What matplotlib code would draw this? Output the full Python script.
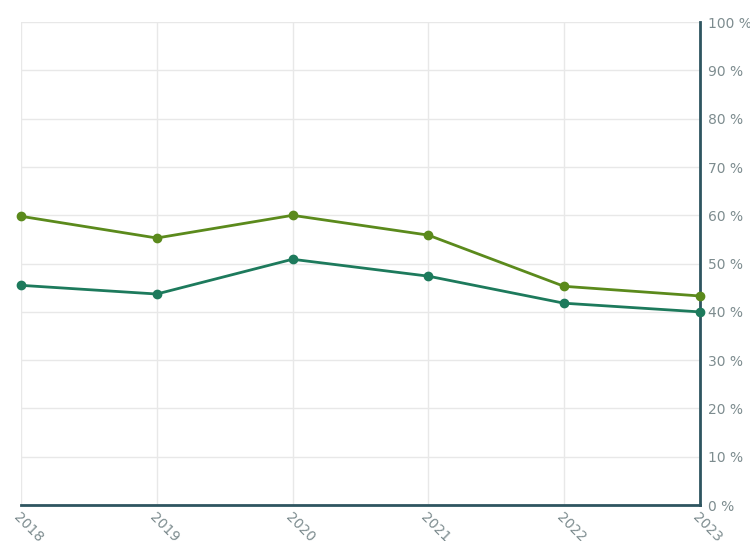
import numpy as np
import matplotlib.pyplot as plt
import matplotlib.transforms as mtransforms
from matplotlib.ticker import FuncFormatter

# %% data
years = ["2018", "2019", "2020", "2021", "2022", "2023"]
series_olive = [59.8, 55.3, 60.0, 55.9, 45.3, 43.3]
series_teal = [45.5, 43.7, 50.9, 47.4, 41.8, 40.0]
yticks = [0, 10, 20, 30, 40, 50, 60, 70, 80, 90, 100]

# %% figure
fig = plt.figure(figsize=(7.5, 5.41), dpi=100)
ax = fig.add_axes([0.028, 0.0665, 0.905, 0.8925])

x = np.arange(len(years))
ax.plot(x, series_olive, '-o', color='#5b8a1c', lw=2, ms=6, zorder=3, clip_on=False)
ax.plot(x, series_teal, '-o', color='#1d7a5c', lw=2, ms=6, zorder=3, clip_on=False)

ax.set_xlim(0, len(years) - 1)
ax.set_ylim(0, 100)
ax.set_xticks(x)
ax.set_xticklabels(years, rotation=-45, ha='left', va='top', rotation_mode='anchor')
ax.set_yticks(yticks)
ax.yaxis.set_major_formatter(FuncFormatter(lambda v, p: f"{int(v)} %"))
ax.yaxis.tick_right()

# nudge the rotated year labels a bit to the left, like the original
offset = mtransforms.ScaledTranslation(-9 / 72, 0, fig.dpi_scale_trans)
for lbl in ax.get_xticklabels():
    lbl.set_transform(lbl.get_transform() + offset)

ax.grid(True, color='#e8e8e8', lw=1)
ax.set_axisbelow(True)

for s in ['top', 'left']:
    ax.spines[s].set_visible(False)
for s in ['right', 'bottom']:
    ax.spines[s].set_color('#2e5560')
    ax.spines[s].set_linewidth(2)

ax.tick_params(axis='both', length=0, colors='#7d8c8f', labelsize=10)
ax.tick_params(axis='y', pad=6)
ax.tick_params(axis='x', pad=4)

fig.savefig('out.png', dpi=100)
